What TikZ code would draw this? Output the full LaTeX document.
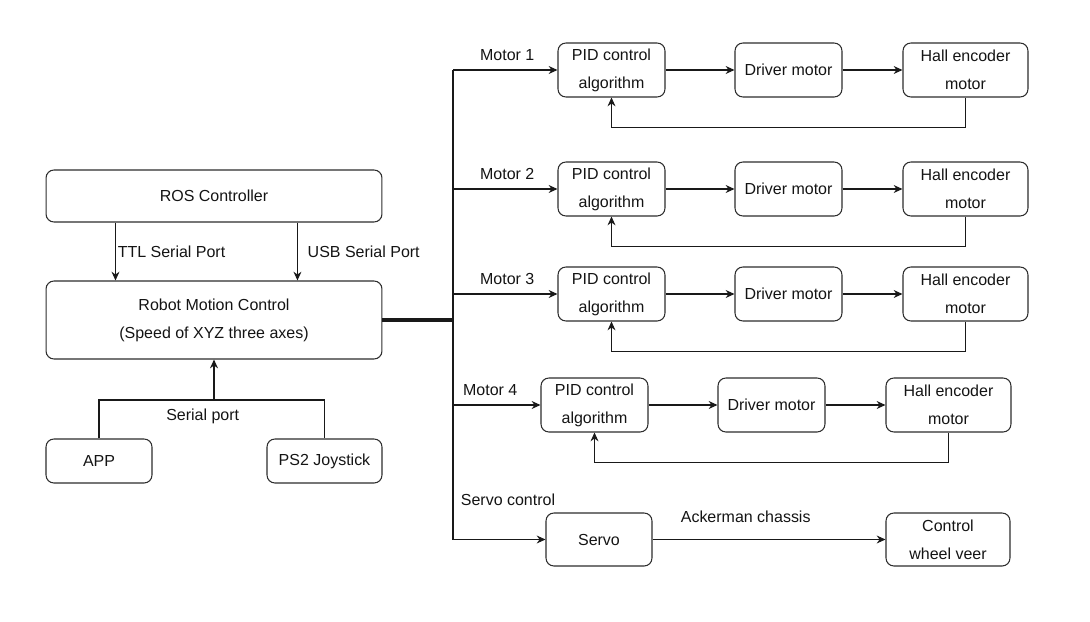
\documentclass[tikz,border=0pt]{standalone}
\usepackage{fontspec}
\setmainfont{Liberation Sans}
\usetikzlibrary{arrows.meta}
\definecolor{boxline}{RGB}{45,45,45}
\definecolor{wireink}{RGB}{25,25,25}
\definecolor{labelink}{RGB}{20,20,20}

\begin{document}
\begin{tikzpicture}[
  x=0.02cm, y=-0.02cm,
  >={Stealth[length=5pt,width=4.5pt]},
  block/.style={draw=boxline, line width=0.6pt, rounded corners=4.5pt, align=center,
    font=\fontsize{9.1}{16}\selectfont, text=labelink, inner sep=0pt},
  wire/.style={draw=wireink, line width=0.6pt, ->},
  plainwire/.style={draw=wireink, line width=0.6pt},
  lab/.style={font=\fontsize{9.1}{16}\selectfont, text=labelink, inner sep=1pt},
]

  % Pixel grid: 1090 x 622, y grows downwards

  % --- Left side: controllers ---
  \node[block, minimum width=6.72cm, minimum height=1.04cm] (ros) at (214,196) {ROS Controller};
  \node[block, minimum width=6.72cm, minimum height=1.56cm] (robot) at (214,320)
    {Robot Motion Control\\(Speed of XYZ three axes)};
  \node[block, minimum width=2.12cm, minimum height=0.88cm] (app) at (99,461) {APP};
  \node[block, minimum width=2.3cm, minimum height=0.88cm] (ps2) at (324.5,461) {PS2 Joystick};

  \draw[wire] ([xshift=1.4cm]ros.south west) -- node[lab, right] {TTL Serial Port}
    ([xshift=1.4cm]robot.north west);
  \draw[wire] ([xshift=5.04cm]ros.south west) -- node[lab, right=0.16cm] {USB Serial Port}
    ([xshift=5.04cm]robot.north west);

  % Serial port merge
  \coordinate (join) at (213,400);
  \draw[plainwire] (app.north) |- node[lab, below=0.14cm, pos=0.73] {Serial port} (ps2.north |- join)
    -- (ps2.north);
  \draw[wire, line width=1.1pt] (robot.south |- join) -- (robot.south);

  % --- Bus ---
  \coordinate (bustop) at (453,70);
  \draw[plainwire, line width=2pt] (robot.east) -- (robot.east -| bustop);

  % --- Motor loops ---
  \foreach \i/\y/\dx in {1/70/0, 2/189/0, 3/294/0, 4/405/-17} {
    \node[block, minimum width=2.14cm, minimum height=1.08cm] (pid\i) at (\dx+611.5,\y)
      {PID control\\algorithm};
    \node[block, minimum width=2.14cm, minimum height=1.08cm] (drv\i) at (\dx+788.5,\y)
      {Driver motor};
    \node[block, minimum width=2.5cm, minimum height=1.08cm] (hall\i) at (\dx+965.5,\y)
      {Hall encoder\\motor};
    \draw[wire] (pid\i) -- (drv\i);
    \draw[wire] (drv\i) -- (hall\i);
    \draw[wire] (hall\i.south) -- ++(0,30) -| (pid\i.south);
    \draw[wire] (pid\i.west -| bustop) -- (pid\i.west);
    \node[lab, anchor=south east] at ([xshift=-0.42cm, yshift=0.14cm]pid\i.west) {Motor \i};
  }

  % --- Servo branch ---
  \node[block, minimum width=2.12cm, minimum height=1.06cm] (servo) at (599,539.5) {Servo};
  \node[block, minimum width=2.48cm, minimum height=1.06cm] (wheel) at (948,539.5)
    {Control\\wheel veer};
  \node[lab] (servolab) at (508,500) {Servo control};
  \draw[wire] (servo.west -| bustop) -- (servo.west);
  \draw[wire] (servo) -- node[lab, above=0.3cm, pos=0.4] {Ackerman chassis} (wheel);

  \draw[plainwire] (pid1.west -| bustop) -- (servo.west -| bustop);

  \path[use as bounding box] (0,0) rectangle (1090,622);

\end{tikzpicture}
\end{document}
